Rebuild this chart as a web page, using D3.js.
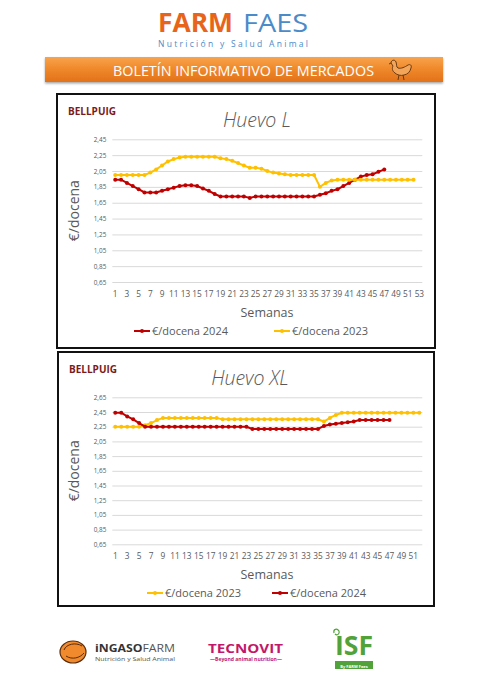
<!DOCTYPE html>
<html>
<head>
<meta charset="utf-8">
<script src="https://cdn.jsdelivr.net/npm/d3@7"></script>
<style>
  html, body { margin: 0; padding: 0; background: #fff; }
  svg { display: block; font-family: "Open Sans", "DejaVu Sans", sans-serif; }
</style>
</head>
<body>
<div id="page"></div>
<script>
// Weeks (categories)
const weeksL = d3.range(1, 54);   // 1..53
const weeksXL = d3.range(1, 53);  // 1..52

// Y tick values
const ticksL = [0.65, 0.85, 1.05, 1.25, 1.45, 1.65, 1.85, 2.05, 2.25, 2.45];
const ticksXL = [0.65, 0.85, 1.05, 1.25, 1.45, 1.65, 1.85, 2.05, 2.25, 2.45, 2.65];

// Huevo L — €/docena
const huevoL2024 = [1.94, 1.94, 1.90, 1.86, 1.82, 1.78, 1.78, 1.78, 1.80, 1.82,
  1.84, 1.86, 1.87, 1.87, 1.86, 1.83, 1.80, 1.76, 1.73, 1.73,
  1.73, 1.73, 1.73, 1.71, 1.73, 1.73, 1.73, 1.73, 1.73, 1.73,
  1.73, 1.73, 1.73, 1.73, 1.73, 1.75, 1.77, 1.80, 1.82, 1.86,
  1.90, 1.94, 1.98, 2.00, 2.01, 2.04, 2.07];
const huevoL2023 = [2.00, 2.00, 2.00, 2.00, 2.00, 2.00, 2.03, 2.07, 2.12, 2.17,
  2.20, 2.22, 2.23, 2.23, 2.23, 2.23, 2.23, 2.23, 2.21, 2.20,
  2.18, 2.15, 2.12, 2.09, 2.09, 2.08, 2.05, 2.03, 2.02, 2.01,
  2.00, 2.00, 2.00, 2.00, 2.00, 1.85, 1.90, 1.93, 1.94, 1.94,
  1.94, 1.94, 1.94, 1.94, 1.94, 1.94, 1.94, 1.94, 1.94, 1.94,
  1.94, 1.94];

// Huevo XL — €/docena
const huevoXL2023 = [2.25, 2.25, 2.25, 2.25, 2.25, 2.27, 2.30, 2.34, 2.37, 2.37,
  2.37, 2.37, 2.37, 2.37, 2.37, 2.37, 2.37, 2.37, 2.35, 2.35,
  2.35, 2.35, 2.35, 2.35, 2.35, 2.35, 2.35, 2.35, 2.35, 2.35,
  2.35, 2.35, 2.35, 2.35, 2.35, 2.32, 2.37, 2.41, 2.44, 2.44,
  2.44, 2.44, 2.44, 2.44, 2.44, 2.44, 2.44, 2.44, 2.44, 2.44,
  2.44, 2.44];
const huevoXL2024 = [2.44, 2.44, 2.39, 2.35, 2.30, 2.25, 2.25, 2.25, 2.25, 2.25,
  2.25, 2.25, 2.25, 2.25, 2.25, 2.25, 2.25, 2.25, 2.25, 2.25,
  2.25, 2.25, 2.25, 2.22, 2.22, 2.22, 2.22, 2.22, 2.22, 2.22,
  2.22, 2.22, 2.22, 2.22, 2.22, 2.26, 2.28, 2.29, 2.30, 2.31,
  2.32, 2.34, 2.34, 2.34, 2.34, 2.34, 2.34];

const RED = "#c00000";
const YELLOW = "#ffc000";
const GREY = "#595959";

const esFmt = d3.formatLocale({decimal: ",", thousands: ".", grouping: [3], currency: ["", "€"]}).format(".2f");

const svg = d3.select("#page").append("svg")
  .attr("width", 481)
  .attr("height", 680);

const defs = svg.append("defs");
const grad = defs.append("linearGradient")
  .attr("id", "bannerGrad")
  .attr("x1", 0).attr("y1", 0).attr("x2", 0).attr("y2", 1);
grad.append("stop").attr("offset", "0%").attr("stop-color", "#f7a44c");
grad.append("stop").attr("offset", "45%").attr("stop-color", "#f08a2c");
grad.append("stop").attr("offset", "100%").attr("stop-color", "#e2711a");

const shadow = defs.append("filter").attr("id", "shadow")
  .attr("x", "-5%").attr("y", "-20%").attr("width", "110%").attr("height", "160%");
shadow.append("feDropShadow")
  .attr("dx", 0).attr("dy", 1.5).attr("stdDeviation", 1.2)
  .attr("flood-color", "#000").attr("flood-opacity", 0.35);

// Header logo
svg.append("text")
  .attr("x", 158).attr("y", 31.5)
  .attr("textLength", 75).attr("lengthAdjust", "spacingAndGlyphs")
  .style("font-size", "26px").style("font-weight", "bold")
  .attr("fill", "#e8641b")
  .text("FARM");
svg.append("text")
  .attr("x", 243).attr("y", 31.5)
  .attr("textLength", 65).attr("lengthAdjust", "spacingAndGlyphs")
  .style("font-size", "26px")
  .attr("fill", "#4b8bc8")
  .text("FAES");
svg.append("text")
  .attr("x", 158).attr("y", 47)
  .attr("textLength", 150).attr("lengthAdjust", "spacing")
  .style("font-size", "8.5px")
  .attr("fill", "#4b8bc8")
  .text("Nutrición y Salud Animal");

// Orange banner
svg.append("rect")
  .attr("x", 45).attr("y", 57)
  .attr("width", 398).attr("height", 25)
  .attr("fill", "url(#bannerGrad)")
  .attr("filter", "url(#shadow)");
svg.append("text")
  .attr("x", 113).attr("y", 76)
  .attr("textLength", 261).attr("lengthAdjust", "spacingAndGlyphs")
  .style("font-size", "14px")
  .attr("fill", "#fff")
  .text("BOLETÍN INFORMATIVO DE MERCADOS");

// Little hen in the banner
const hen = svg.append("g").attr("transform", "translate(389,59)");
hen.append("path")
  .attr("d", "M2,4 C2,1 6,0 7,3 C8,6 7,8 9,9 C12,10 16,8 19,6 C21,5 23,6 22,9 C21,13 19,15 15,16 C12,17 8,16 6,14 C3,12 3,9 4,7 Z")
  .attr("fill", "#f3a65a").attr("stroke", "#6b3a12").attr("stroke-width", 1);
hen.append("path")
  .attr("d", "M10,16 L9,21 M14,16 L15,21 M2,4 L0,5")
  .attr("stroke", "#6b3a12").attr("stroke-width", 1).attr("fill", "none");

// Chart drawing
function drawChart(cfg) {
  const g = svg.append("g");

  // frame
  g.append("rect")
    .attr("x", cfg.box.x).attr("y", cfg.box.y)
    .attr("width", cfg.box.w).attr("height", cfg.box.h)
    .attr("fill", "#fff")
    .attr("stroke", "#111").attr("stroke-width", 2);

  g.append("text")
    .attr("x", cfg.box.x + 11).attr("y", cfg.box.y + 20.5)
    .style("font-size", "10px").style("font-weight", "bold")
    .attr("fill", "#7b1a1a")
    .text("BELLPUIG");

  g.append("text")
    .attr("x", cfg.titleX).attr("y", cfg.box.y + 33)
    .attr("text-anchor", "middle")
    .style("font-size", "19.5px").style("font-style", "italic").style("font-weight", 300)
    .attr("fill", GREY)
    .text(cfg.title);

  const x = d3.scaleBand()
    .domain(cfg.weeks)
    .range([112.3, 422.3]);

  const y = d3.scaleLinear()
    .domain([cfg.ticks[0], cfg.ticks[cfg.ticks.length - 1]])
    .range([cfg.plotBottom, cfg.plotTop]);

  // gridlines + y labels
  const yAxis = g.append("g")
    .attr("transform", "translate(112.3,0)")
    .call(d3.axisLeft(y).tickValues(cfg.ticks).tickFormat(esFmt).tickSize(-310).tickPadding(6));
  yAxis.select(".domain").remove();
  yAxis.selectAll(".tick line").attr("stroke", "#d9d9d9").attr("stroke-width", 1);
  yAxis.selectAll("text")
    .attr("fill", GREY)
    .style("font-size", "6.4px")
    .style("font-family", "Open Sans, sans-serif");

  // x labels
  const xAxis = g.append("g")
    .attr("transform", `translate(0,${cfg.plotBottom})`)
    .call(d3.axisBottom(x).tickSize(0).tickPadding(9)
      .tickFormat(d => d % 2 === 1 ? d : ""));
  xAxis.select(".domain").remove();
  xAxis.selectAll("text")
    .attr("fill", GREY)
    .style("font-size", "8.3px")
    .style("font-family", "Open Sans, sans-serif");

  // axis titles
  g.append("text")
    .attr("transform", `translate(79,${(cfg.plotTop + cfg.plotBottom) / 2}) rotate(-90)`)
    .attr("text-anchor", "middle")
    .style("font-size", "14px")
    .attr("fill", GREY)
    .text("€/docena");

  g.append("text")
    .attr("x", 267).attr("y", cfg.plotBottom + 35)
    .attr("text-anchor", "middle")
    .style("font-size", "12.5px")
    .attr("fill", GREY)
    .text("Semanas");

  const line = d3.line()
    .x((d, i) => x(cfg.weeks[i]) + x.bandwidth() / 2)
    .y(d => y(d));

  cfg.series.forEach(s => {
    g.append("path")
      .datum(s.values)
      .attr("fill", "none")
      .attr("stroke", s.color)
      .attr("stroke-width", 2)
      .attr("d", line);
    g.selectAll(null)
      .data(s.values)
      .enter()
      .append("circle")
        .attr("cx", (d, i) => x(cfg.weeks[i]) + x.bandwidth() / 2)
        .attr("cy", d => y(d))
        .attr("r", 2)
        .attr("fill", s.color);
  });

  // legend
  const legend = g.selectAll(".legend-item")
    .data(cfg.legend)
    .enter()
    .append("g")
      .attr("transform", d => `translate(${d.x},${cfg.legendY})`);
  legend.append("line")
    .attr("x1", 0).attr("x2", 16)
    .attr("stroke", d => d.color).attr("stroke-width", 2);
  legend.append("circle")
    .attr("cx", 8).attr("r", 2)
    .attr("fill", d => d.color);
  legend.append("text")
    .attr("x", 18).attr("dy", "0.35em")
    .style("font-size", "11px")
    .attr("fill", GREY)
    .text(d => d.label);
}

drawChart({
  box: {x: 57, y: 94, w: 378, h: 254},
  title: "Huevo L",
  titleX: 257,
  weeks: weeksL,
  ticks: ticksL,
  plotTop: 139.3,
  plotBottom: 282,
  legendY: 331,
  series: [
    {values: huevoL2024, color: RED},
    {values: huevoL2023, color: YELLOW}
  ],
  legend: [
    {label: "€/docena 2024", color: RED, x: 134},
    {label: "€/docena 2023", color: YELLOW, x: 274}
  ]
});

drawChart({
  box: {x: 58, y: 352, w: 376, h: 254},
  title: "Huevo XL",
  titleX: 250,
  weeks: weeksXL,
  ticks: ticksXL,
  plotTop: 397.3,
  plotBottom: 544.3,
  legendY: 593,
  series: [
    {values: huevoXL2023, color: YELLOW},
    {values: huevoXL2024, color: RED}
  ],
  legend: [
    {label: "€/docena 2023", color: YELLOW, x: 147},
    {label: "€/docena 2024", color: RED, x: 272}
  ]
});

// Footer logos
const ing = svg.append("g");
ing.append("ellipse")
  .attr("cx", 73).attr("cy", 652).attr("rx", 13).attr("ry", 11)
  .attr("fill", "#f08a2c").attr("stroke", "#5a2c0c").attr("stroke-width", 1.2);
ing.append("path")
  .attr("d", "M64,650 C66,644 76,642 82,646 M66,656 C72,660 80,658 84,653")
  .attr("fill", "none").attr("stroke", "#5a2c0c").attr("stroke-width", 1);
ing.append("text")
  .attr("x", 95).attr("y", 652)
  .attr("textLength", 80).attr("lengthAdjust", "spacingAndGlyphs")
  .style("font-size", "11px")
  .html('<tspan font-weight="bold" fill="#333">iNGASO</tspan><tspan fill="#555">FARM</tspan>');
ing.append("text")
  .attr("x", 95).attr("y", 661)
  .attr("textLength", 80).attr("lengthAdjust", "spacingAndGlyphs")
  .style("font-size", "5.5px")
  .attr("fill", "#555")
  .text("Nutrición y Salud Animal");

svg.append("text")
  .attr("x", 208).attr("y", 653)
  .attr("textLength", 75).attr("lengthAdjust", "spacingAndGlyphs")
  .style("font-size", "13px").style("font-weight", "bold")
  .attr("fill", "#c2186a")
  .text("TECNOVIT");
svg.append("text")
  .attr("x", 210).attr("y", 661)
  .attr("textLength", 72).attr("lengthAdjust", "spacingAndGlyphs")
  .style("font-size", "5px").style("font-weight", "bold")
  .attr("fill", "#c2186a")
  .text("—Beyond animal nutrition—");

svg.append("text")
  .attr("transform", "translate(335,655) scale(1,1.15)")
  .attr("textLength", 38).attr("lengthAdjust", "spacingAndGlyphs")
  .style("font-size", "24px").style("font-weight", "bold")
  .attr("fill", "#52a23a")
  .text("ISF");
svg.append("path")
  .attr("d", "M334,633 C333,629 337,628 339,631 C340,634 337,636 335,634")
  .attr("fill", "none").attr("stroke", "#52a23a").attr("stroke-width", 1.2);
svg.append("rect")
  .attr("x", 335).attr("y", 661).attr("width", 38).attr("height", 8)
  .attr("fill", "#52a23a");
svg.append("text")
  .attr("x", 354).attr("y", 667.5)
  .attr("text-anchor", "middle")
  .style("font-size", "4px").style("font-weight", "bold")
  .attr("fill", "#fff")
  .text("By FARM Faes");
</script>
</body>
</html>
